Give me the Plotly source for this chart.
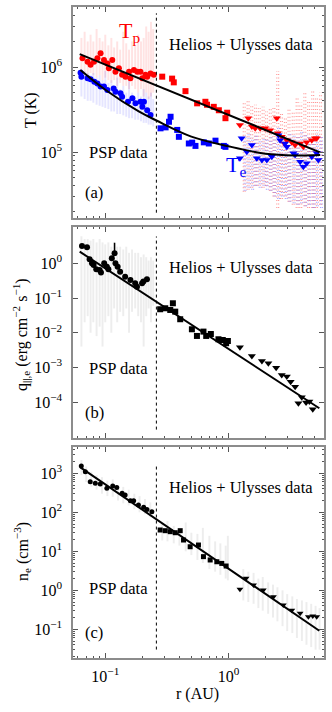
import plotly.graph_objects as go

# ---------------- DATA ----------------
# Panel (a): temperatures (K)
tp_psp_r = [0.0653, 0.0718, 0.076, 0.081, 0.0863, 0.0916, 0.0976, 0.104, 0.107, 0.114, 0.121, 0.129,
            0.137, 0.146, 0.156, 0.160, 0.171, 0.182, 0.193, 0.200, 0.212, 0.219, 0.233, 0.248]
tp_psp_T = [1.27e6, 1.15e6, 1.06e6, 1.15e6, 1.27e6, 1.45e6, 1.21e6, 1.10e6, 0.97e6, 1.21e6, 0.88e6, 0.97e6,
            0.81e6, 0.77e6, 0.88e6, 0.74e6, 0.92e6, 0.88e6, 0.88e6, 0.74e6, 0.81e6, 0.77e6, 0.84e6, 0.81e6]
tp_hel_r = [0.29, 0.349, 0.36, 0.448, 0.557, 0.65, 0.67, 0.76, 0.836, 0.946, 0.977]
tp_hel_T = [0.77e6, 0.73e6, 0.66e6, 0.52e6, 0.374e6, 0.39e6, 0.36e6, 0.34e6, 0.31e6, 0.25e6, 0.29e6]
tp_uly_r = [1.24, 1.45, 1.55, 1.65, 1.81, 1.99, 2.18, 2.47, 2.52, 2.71, 2.98, 2.85, 3.27, 3.48, 3.82, 4.06,
            4.32, 4.75, 5.05, 5.21]
tp_uly_T = [0.208e6, 0.25e6, 0.199e6, 0.19e6, 0.19e6, 0.19e6, 0.18e6, 0.25e6, 0.166e6, 0.151e6, 0.138e6,
            0.126e6, 0.13e6, 0.121e6, 0.126e6, 0.115e6, 0.13e6, 0.138e6, 0.145e6, 0.145e6]

te_psp_r = [0.063, 0.064, 0.0718, 0.076, 0.0815, 0.0863, 0.0916, 0.0976, 0.104, 0.117, 0.121, 0.133,
            0.137, 0.153, 0.166, 0.176, 0.193, 0.200, 0.206, 0.219, 0.233]
te_psp_T = [0.858e6, 0.77e6, 0.74e6, 0.72e6, 0.67e6, 0.64e6, 0.59e6, 0.59e6, 0.536e6, 0.56e6, 0.51e6, 0.49e6,
            0.448e6, 0.39e6, 0.428e6, 0.374e6, 0.39e6, 0.34e6, 0.39e6, 0.31e6, 0.272e6]
te_hel_r = [0.281, 0.309, 0.329, 0.339, 0.384, 0.396, 0.477, 0.508, 0.54, 0.631, 0.693, 0.785, 0.918, 0.946]
te_hel_T = [0.19e6, 0.195e6, 0.227e6, 0.26e6, 0.182e6, 0.151e6, 0.126e6, 0.129e6, 0.118e6, 0.13e6, 0.126e6,
            0.136e6, 0.118e6, 0.115e6]
te_uly_r = [1.24, 1.28, 1.41, 1.55, 1.70, 1.87, 2.05, 2.25, 2.55, 2.63, 2.88, 2.98, 3.37, 3.48, 3.82, 4.06,
            4.32, 4.75, 5.21, 5.37]
te_uly_T = [0.0843e6, 0.145e6, 0.101e6, 0.121e6, 0.0843e6, 0.0805e6, 0.0805e6, 0.088e6, 0.158e6, 0.138e6,
            0.126e6, 0.115e6, 0.097e6, 0.092e6, 0.077e6, 0.067e6, 0.074e6, 0.088e6, 0.097e6, 0.0805e6]

tp_fit_r = [0.062, 1.0, 5.55]
tp_fit_T = [1.42e6, 2.74e5, 0.99e5]
te_fit_r = [0.0628, 0.1, 0.187, 0.26, 0.5, 1.0, 2.0, 3.5, 5.55]
te_fit_T = [0.92e6, 0.54e6, 0.30e6, 0.235e6, 0.152e6, 0.117e6, 0.0955e6, 0.091e6, 0.092e6]

# PSP spread (vertical streaks), panel (a)
psp_cloud_r = [0.064, 0.068, 0.072, 0.076, 0.080, 0.085, 0.090, 0.095, 0.100, 0.106, 0.112, 0.118, 0.125,
               0.132, 0.140, 0.148, 0.156, 0.165, 0.175, 0.185, 0.195, 0.205, 0.215, 0.225, 0.235, 0.245]
tp_cloud_hi = [2.2e6, 2.6e6, 2.0e6, 2.4e6, 2.0e6, 2.8e6, 2.2e6, 2.0e6, 2.4e6, 1.8e6, 2.2e6, 1.7e6, 2.0e6,
               1.6e6, 2.6e6, 1.9e6, 1.6e6, 2.0e6, 1.8e6, 2.4e6, 2.0e6, 2.2e6, 3.0e6, 2.6e6, 3.4e6, 2.8e6]
tp_cloud_lo = [0.9e6, 0.85e6, 0.8e6, 0.85e6, 0.8e6, 0.75e6, 0.8e6, 0.7e6, 0.75e6, 0.7e6, 0.65e6, 0.7e6, 0.6e6,
               0.65e6, 0.6e6, 0.6e6, 0.55e6, 0.6e6, 0.55e6, 0.5e6, 0.55e6, 0.45e6, 0.5e6, 0.42e6, 0.45e6, 0.5e6]
te_cloud_hi = [0.95e6, 0.9e6, 0.85e6, 0.8e6, 0.85e6, 0.75e6, 0.8e6, 0.7e6, 0.9e6, 0.65e6, 0.7e6, 0.6e6, 0.75e6,
               0.55e6, 0.6e6, 0.5e6, 0.7e6, 0.5e6, 0.45e6, 0.5e6, 0.45e6, 0.55e6, 0.5e6, 0.45e6, 0.5e6, 0.42e6]
te_cloud_lo = [0.45e6, 0.42e6, 0.40e6, 0.4e6, 0.38e6, 0.36e6, 0.35e6, 0.34e6, 0.33e6, 0.32e6, 0.3e6, 0.3e6,
               0.28e6, 0.28e6, 0.27e6, 0.26e6, 0.25e6, 0.25e6, 0.24e6, 0.24e6, 0.23e6, 0.22e6, 0.22e6, 0.21e6,
               0.21e6, 0.2e6]

# Ulysses spread (dotted columns), panel (a)
uly_cloud_r = [1.32, 1.42, 1.52, 1.63, 1.75, 1.88, 2.0, 2.15, 2.3, 2.47, 2.65, 2.85, 3.05, 3.3, 3.55, 3.8,
               4.1, 4.4, 4.75, 5.1, 5.5]
tp_uly_hi = [3.8e5, 4.2e5, 3.5e5, 3.6e5, 3.3e5, 3.4e5, 3.0e5, 3.2e5, 3.4e5, 9.0e5, 3.0e5, 2.6e5, 3.2e5, 3.0e5,
             4.5e5, 3.8e5, 5.0e5, 4.0e5, 5.5e5, 4.5e5, 5.0e5]
tp_uly_lo = [3.4e4, 3.6e4, 3.8e4, 4e4, 4e4, 3.8e4, 4e4, 3.5e4, 3e4, 2.2e4, 2.8e4, 3e4, 2.6e4, 2.4e4, 2.2e4,
             2.2e4, 2.3e4, 2.2e4, 2.2e4, 2.2e4, 2.4e4]
te_uly_hi = [1.6e5, 1.7e5, 1.5e5, 1.6e5, 1.4e5, 1.5e5, 1.4e5, 1.6e5, 1.5e5, 2.0e5, 1.6e5, 1.5e5, 1.7e5, 1.6e5,
             1.5e5, 1.8e5, 1.6e5, 1.5e5, 1.6e5, 1.7e5, 1.5e5]
te_uly_lo = [3.5e4, 3.8e4, 3.6e4, 4e4, 3.8e4, 4e4, 3.6e4, 3.5e4, 3e4, 2.8e4, 3e4, 2.8e4, 2.6e4, 2.5e4, 2.4e4,
             2.5e4, 2.3e4, 2.4e4, 2.2e4, 2.3e4, 2.2e4]

# Panel (b): electron heat flux (erg cm^-2 s^-1)
q_psp_r = [0.0647, 0.0711, 0.0746, 0.078, 0.0804, 0.0845, 0.09, 0.0923, 0.098, 0.103, 0.106, 0.113, 0.119,
           0.121, 0.126, 0.132, 0.145, 0.160, 0.175, 0.181, 0.199, 0.204, 0.218]
q_psp_v = [3.15, 2.9, 1.3, 1.0, 0.89, 0.67, 0.64, 0.54, 1.0, 0.8, 0.67, 1.39, 1.94, 1.0, 0.8, 0.57, 0.41, 0.33,
           0.265, 0.21, 0.265, 0.3, 0.345]
q_spike_r = [0.119, 0.119]
q_spike_v = [1.94, 3.9]
q_hel_r = [0.279, 0.307, 0.337, 0.354, 0.37, 0.406, 0.505, 0.555, 0.627, 0.66, 0.72, 0.83, 0.9, 0.958, 0.99]
q_hel_v = [0.0475, 0.0507, 0.0453, 0.0706, 0.0405, 0.0245, 0.0126, 0.0081, 0.0108, 0.0081, 0.0092, 0.0065,
           0.0062, 0.005, 0.0058]
q_uly_r = [1.24, 1.55, 1.87, 2.11, 2.44, 2.71, 2.98, 3.2, 3.48, 3.7, 3.94, 4.27, 4.54, 4.84]
q_uly_v = [0.00383, 0.00215, 0.00155, 0.00132, 0.00099, 0.00061, 0.00055, 0.00039, 0.00028, 9.4e-5, 1.39e-4,
           9.8e-5, 1.05e-4, 6.3e-5]
q_fit_r = [0.062, 1.0, 5.47]
q_fit_v = [2.16, 3.44e-3, 6.7e-5]
q_cloud_hi = [6.0, 5.0, 5.0, 4.5, 5.0, 4.0, 5.0, 4.0, 3.5, 4.0, 3.0, 4.0, 3.0, 3.0, 2.5, 3.0, 2.0, 2.5, 2.0,
              2.0, 1.5, 1.8, 1.5, 1.2, 1.5, 1.2]
q_cloud_lo = [0.004, 0.02, 0.03, 0.01, 0.02, 0.008, 0.015, 0.004, 0.02, 0.03, 0.01, 0.05, 0.02, 0.04, 0.03,
              0.05, 0.01, 0.04, 0.05, 0.03, 0.02, 0.004, 0.03, 0.05, 0.02, 0.06]

# Panel (c): electron density (cm^-3)
n_psp_r = [0.0639, 0.0689, 0.0755, 0.083, 0.091, 0.103, 0.115, 0.124, 0.137, 0.145, 0.160, 0.170, 0.186,
           0.205, 0.218, 0.239]
n_psp_v = [1540, 1100, 610, 555, 532, 412, 472, 436, 307, 278, 199, 199, 154, 134, 119, 104]
n_hel_r = [0.279, 0.307, 0.337, 0.370, 0.406, 0.432, 0.489, 0.571, 0.627, 0.711, 0.805, 0.883, 0.958]
n_hel_v = [35.2, 33.8, 31.9, 30.0, 33.8, 19.5, 13.1, 14.5, 7.3, 6.0, 5.4, 4.9, 4.2]
n_uly_r = [1.24, 1.39, 1.6, 1.92, 2.32, 2.79, 3.27, 3.82, 4.46, 4.84, 5.21]
n_uly_v = [1.06, 2.03, 1.37, 1.02, 0.686, 0.42, 0.31, 0.257, 0.21, 0.22, 0.21]
n_fit_r = [0.0628, 1.0, 5.47]
n_fit_v = [1425, 3.6, 0.092]
n_cloud_r = [0.064, 0.07, 0.077, 0.085, 0.094, 0.104, 0.115, 0.127, 0.14, 0.155, 0.172, 0.19, 0.21, 0.232,
             0.29, 0.32, 0.36, 0.40, 0.45, 0.50, 0.56, 0.62, 0.70, 0.78, 0.86, 0.95, 0.99,
             1.32, 1.45, 1.6, 1.75, 1.9, 2.1, 2.3, 2.5, 2.75, 3.0, 3.3, 3.6, 3.95, 4.3, 4.7, 5.1, 5.5]
n_cloud_hi = [2200, 1500, 1100, 900, 800, 650, 700, 500, 450, 380, 300, 260, 220, 180,
              53, 60, 45, 40, 55, 30, 28, 40, 25, 18, 16, 14, 25,
              3.5, 3.0, 2.8, 2.0, 2.2, 1.6, 1.4, 1.2, 1.0, 0.8, 0.7, 0.6, 0.55, 0.5, 0.45, 0.4, 0.35]
n_cloud_lo = [900, 600, 450, 380, 300, 260, 250, 200, 170, 150, 120, 100, 90, 75,
              19, 18, 16, 14, 10, 8, 6, 5, 3.5, 3.0, 2.5, 2.0, 1.8,
              0.55, 0.5, 0.45, 0.35, 0.3, 0.25, 0.2, 0.16, 0.12, 0.09, 0.08, 0.06, 0.05, 0.04, 0.035, 0.03, 0.03]

SPLIT_R = 0.26

# tick labels
x_tickvals = [0.1, 1.0]
x_ticktext = ["10<sup>−1</sup>", "10<sup>0</sup>"]
x_minor = [0.06, 0.07, 0.08, 0.09, 0.2, 0.3, 0.4, 0.5, 0.6, 0.7, 0.8, 0.9, 2, 3, 4, 5, 6]
ya_tickvals = [1e5, 1e6]
ya_ticktext = ["10<sup>5</sup>", "10<sup>6</sup>"]
ya_minor = [2e4, 3e4, 4e4, 5e4, 6e4, 7e4, 8e4, 9e4, 2e5, 3e5, 4e5, 5e5, 6e5, 7e5, 8e5, 9e5,
            2e6, 3e6, 4e6, 5e6]
yb_tickvals = [1e-4, 1e-3, 1e-2, 1e-1, 1.0]
yb_ticktext = ["10<sup>−4</sup>", "10<sup>−3</sup>", "10<sup>−2</sup>", "10<sup>−1</sup>", "10<sup>0</sup>"]
yc_tickvals = [0.1, 1.0, 10.0, 100.0, 1000.0]
yc_ticktext = ["10<sup>−1</sup>", "10<sup>0</sup>", "10<sup>1</sup>", "10<sup>2</sup>", "10<sup>3</sup>"]
yc_minor = [0.02, 0.03, 0.04, 0.05, 0.06, 0.07, 0.08, 0.09, 0.2, 0.3, 0.4, 0.5, 0.6, 0.7, 0.8, 0.9,
            2, 3, 4, 5, 6, 7, 8, 9, 20, 30, 40, 50, 60, 70, 80, 90, 200, 300, 400, 500, 600, 700, 800, 900,
            2000, 3000, 4000]

# ---------------- FIGURE ----------------
FONT = "Liberation Serif, Times New Roman, DejaVu Serif, serif"
RED = "#ff0000"
BLUE = "#0000ff"

fig = go.Figure()


def segs(rs, lo, hi):
    xs, ys = [], []
    for r, a, b in zip(rs, lo, hi):
        xs += [r, r, None]
        ys += [a, b, None]
    return xs, ys


def add_cloud(rs, lo, hi, color, width, dash, xa, ya):
    xs, ys = segs(rs, lo, hi)
    fig.add_trace(go.Scatter(x=xs, y=ys, mode="lines", line=dict(color=color, width=width, dash=dash),
                             xaxis=xa, yaxis=ya, hoverinfo="skip", showlegend=False))


def add_pts(rs, vs, color, symbol, size, xa, ya):
    fig.add_trace(go.Scatter(x=rs, y=vs, mode="markers", marker=dict(color=color, symbol=symbol, size=size,
                             line=dict(width=0)), xaxis=xa, yaxis=ya, showlegend=False))


def add_fit(rs, vs, xa, ya, shape="linear", width=2):
    fig.add_trace(go.Scatter(x=rs, y=vs, mode="lines", line=dict(color="black", width=width, shape=shape,
                             smoothing=1.0), xaxis=xa, yaxis=ya, showlegend=False))


# Panel (a)
add_cloud(psp_cloud_r, tp_cloud_lo, tp_cloud_hi, "rgba(255,0,0,0.11)", 2, "solid", "x", "y")
add_cloud(psp_cloud_r, te_cloud_lo, te_cloud_hi, "rgba(0,0,255,0.10)", 2, "solid", "x", "y")
for shift in (1.0, 1.035):
    add_cloud([r * shift for r in uly_cloud_r], tp_uly_lo, tp_uly_hi, "rgba(255,0,0,0.4)", 1.2, "1px,2.5px",
              "x", "y")
for shift in (1.017, 1.052):
    add_cloud([r * shift for r in uly_cloud_r], te_uly_lo, te_uly_hi, "rgba(0,0,255,0.35)", 1.2, "1px,2.5px",
              "x", "y")
add_pts(tp_psp_r, tp_psp_T, RED, "circle", 6, "x", "y")
add_pts(tp_hel_r, tp_hel_T, RED, "square", 6, "x", "y")
add_pts(tp_uly_r, tp_uly_T, RED, "triangle-down", 7, "x", "y")
add_pts(te_psp_r, te_psp_T, BLUE, "circle", 6, "x", "y")
add_pts(te_hel_r, te_hel_T, BLUE, "square", 6, "x", "y")
add_pts(te_uly_r, te_uly_T, BLUE, "triangle-down", 7, "x", "y")
add_fit(tp_fit_r, tp_fit_T, "x", "y")
add_fit(te_fit_r, te_fit_T, "x", "y", "spline")

# Panel (b)
add_cloud(psp_cloud_r, q_cloud_lo, q_cloud_hi, "rgba(0,0,0,0.07)", 2, "solid", "x2", "y2")
add_fit(q_spike_r, q_spike_v, "x2", "y2", width=1.5)
add_pts(q_psp_r, q_psp_v, "black", "circle", 6, "x2", "y2")
add_pts(q_hel_r, q_hel_v, "black", "square", 6, "x2", "y2")
add_pts(q_uly_r, q_uly_v, "black", "triangle-down", 7, "x2", "y2")
add_fit(q_fit_r, q_fit_v, "x2", "y2")

# Panel (c)
add_cloud(n_cloud_r, n_cloud_lo, n_cloud_hi, "rgba(0,0,0,0.07)", 2, "solid", "x3", "y3")
add_pts(n_psp_r, n_psp_v, "black", "circle", 5, "x3", "y3")
add_pts(n_hel_r, n_hel_v, "black", "square", 5, "x3", "y3")
add_pts(n_uly_r, n_uly_v, "black", "triangle-down", 6, "x3", "y3")
add_fit(n_fit_r, n_fit_v, "x3", "y3")

FRAME = "#8c8c8c"
TFONT = dict(family=FONT, size=16, color="black")


def minor_cfg(vals):
    return dict(ticks="inside", ticklen=2.5, tickcolor="#555", showgrid=False, tickmode="array", tickvals=vals)


xcommon = dict(type="log", range=[-1.262, 0.776], showline=True, linecolor=FRAME, linewidth=1.5,
               mirror="allticks", ticks="inside", ticklen=5, tickcolor="#555",
               tickmode="array", tickvals=x_tickvals, ticktext=x_ticktext,
               showgrid=False, zeroline=False, automargin=False, ticklabelstandoff=3,
               minor=minor_cfg(x_minor), tickfont=TFONT)
ycommon = dict(type="log", showline=True, linecolor=FRAME, linewidth=1.5, mirror="allticks",
               ticks="inside", ticklen=5, tickcolor="#555", showgrid=False, zeroline=False,
               automargin=False, tickfont=TFONT, tickmode="array", ticklabelstandoff=6)

fig.update_layout(
    width=332, height=712, margin=dict(l=73, r=8, t=7, b=54),
    paper_bgcolor="white", plot_bgcolor="white",
    font=dict(family=FONT, color="black"),
    xaxis=dict(**xcommon, anchor="y", showticklabels=False),
    xaxis2=dict(**xcommon, anchor="y2", showticklabels=False),
    xaxis3=dict(**xcommon, anchor="y3"),
    yaxis=dict(**ycommon, domain=[0.6759, 1.0], range=[4.224, 6.706], anchor="x",
               tickvals=ya_tickvals, ticktext=ya_ticktext, minor=minor_cfg(ya_minor)),
    yaxis2=dict(**ycommon, domain=[0.3379, 0.6621], range=[-5.03, 1.045], anchor="x2",
                tickvals=yb_tickvals, ticktext=yb_ticktext),
    yaxis3=dict(**ycommon, domain=[0.0, 0.3241], range=[-1.736, 3.675], anchor="x3",
                tickvals=yc_tickvals, ticktext=yc_ticktext, minor=minor_cfg(yc_minor)),
)

# dotted separator lines
for xa, ya, (y0, y1) in zip(["x", "x2", "x3"], ["y", "y2", "y3"], [(0.025, 0.97), (0.04, 0.955), (0.04, 0.91)]):
    fig.add_shape(type="line", xref=xa, yref=f"{ya} domain",
                  x0=SPLIT_R, x1=SPLIT_R, y0=y0, y1=y1, line=dict(color="black", width=1, dash="dot"))

# axis titles (as annotations, fixed positions)
PLOT_W, PLOT_H = 251.0, 651.0


def px_x(px):
    return (px - 73) / PLOT_W


def px_y(py):
    return (658 - py) / PLOT_H


fig.add_annotation(xref="paper", yref="paper", x=px_x(31), y=px_y(110), text="T (K)", textangle=-90,
                   showarrow=False, font=TFONT, xanchor="center", yanchor="middle")
fig.add_annotation(xref="paper", yref="paper", x=px_x(21), y=px_y(335),
                   text="q<sub>||,e</sub> (erg cm<sup>−2</sup> s<sup>−1</sup>)", textangle=-90,
                   showarrow=False, font=TFONT, xanchor="center", yanchor="middle")
fig.add_annotation(xref="paper", yref="paper", x=px_x(22), y=px_y(552), text="n<sub>e</sub> (cm<sup>−3</sup>)",
                   textangle=-90, showarrow=False, font=TFONT, xanchor="center", yanchor="middle")
fig.add_annotation(xref="paper", yref="paper", x=px_x(197), y=px_y(694), text="r (AU)",
                   showarrow=False, font=TFONT, xanchor="center", yanchor="middle")

ann_font = dict(family=FONT, size=16.5, color="black")
labels = [
    ("x domain", "y domain", 0.965, 0.82, "Helios + Ulysses data", "right"),
    ("x domain", "y domain", 0.055, 0.31, "PSP data", "left"),
    ("x domain", "y domain", 0.04, 0.12, "(a)", "left"),
    ("x2 domain", "y2 domain", 0.965, 0.81, "Helios + Ulysses data", "right"),
    ("x2 domain", "y2 domain", 0.055, 0.33, "PSP data", "left"),
    ("x2 domain", "y2 domain", 0.04, 0.12, "(b)", "left"),
    ("x3 domain", "y3 domain", 0.965, 0.81, "Helios + Ulysses data", "right"),
    ("x3 domain", "y3 domain", 0.055, 0.33, "PSP data", "left"),
    ("x3 domain", "y3 domain", 0.04, 0.12, "(c)", "left"),
]
for xr, yr, xx, yy, txt, anc in labels:
    fig.add_annotation(xref=xr, yref=yr, x=xx, y=yy, text=txt, showarrow=False, xanchor=anc,
                       yanchor="middle", font=ann_font)

fig.add_annotation(xref="x domain", yref="y domain", x=0.175, y=0.955, text="T<sub>p</sub>", showarrow=False,
                   font=dict(family=FONT, size=22, color=RED))
fig.add_annotation(xref="x domain", yref="y domain", x=0.65, y=0.17, text="T<sub>e</sub>", showarrow=False,
                   font=dict(family=FONT, size=22, color=BLUE))

# remove the browser's default page margin so the figure sits at the window origin
fig.write_html("out.html", config={"displayModeBar": False},
               post_script="document.body.style.margin='0px';")
